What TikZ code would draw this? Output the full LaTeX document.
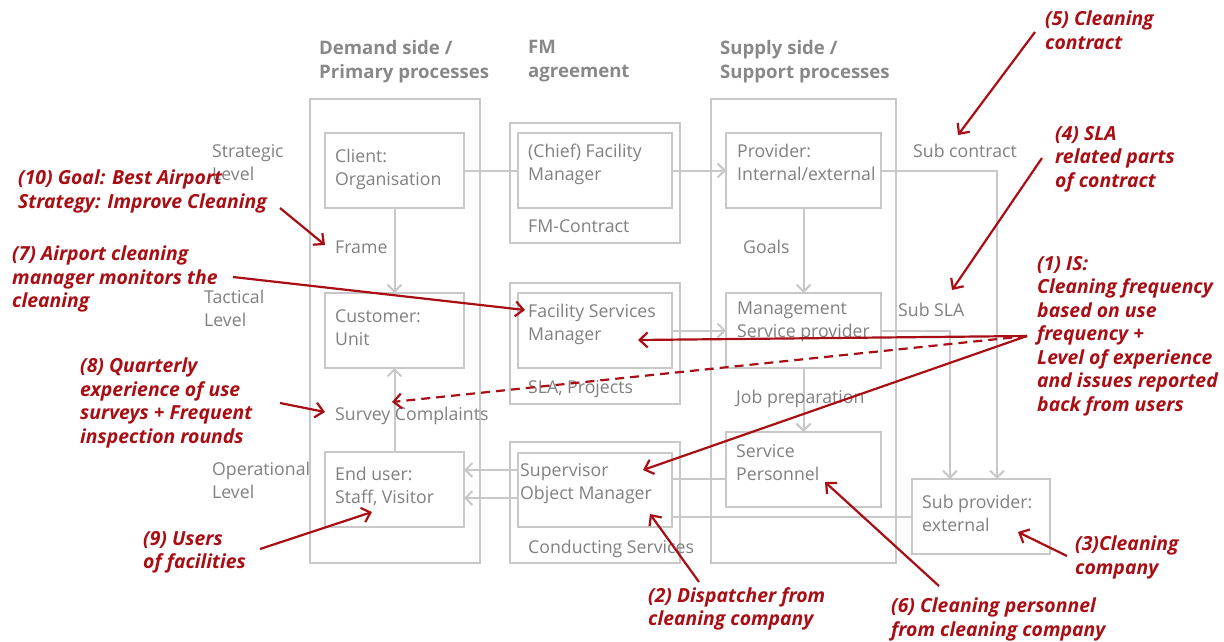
\documentclass[tikz,border=0pt]{standalone}
\usepackage{fontspec}
\setmainfont{Open Sans}
\usetikzlibrary{arrows.meta}
\definecolor{boxgray}{RGB}{200,200,200}
\definecolor{txtgray}{RGB}{128,128,128}
\definecolor{headgray}{RGB}{136,136,136}
\definecolor{annred}{RGB}{168,14,20}
\begin{document}
\begin{tikzpicture}[x=1pt,y=-1pt,
  gbox/.style={draw=boxgray,line width=2pt,inner sep=0pt,outer sep=0pt,rectangle},
  gline/.style={draw=boxgray,line width=2pt},
  garrow/.style={gline,-{Straight Barb[length=7pt,width=14pt]}},
  gtext/.style={text=txtgray,font=\fontsize{17.7}{23}\selectfont,inner sep=0pt,anchor=north west,align=left,execute at begin node={\rule{0pt}{14pt}}},
  htext/.style={text=headgray,font=\bfseries\fontsize{18.6}{24}\selectfont,inner sep=0pt,anchor=north west,align=left,execute at begin node={\rule{0pt}{14.5pt}}},
  rtext/.style={text=annred,font=\bfseries\itshape\fontsize{19.4}{23.5}\selectfont,inner sep=0pt,anchor=north west,align=left,execute at begin node={\rule{0pt}{15.5pt}}},
  rarrow/.style={draw=annred,line width=2.2pt,-{Straight Barb[length=8pt,width=15pt]}},
  rdash/.style={rarrow,dash pattern=on 9pt off 6pt}
]
\path[use as bounding box] (0,0) rectangle (1224,641);

% outer boxes
\node[gbox,minimum width=170pt,minimum height=464pt] (lout) at (395,331) {};
\node[gbox,minimum width=185pt,minimum height=464pt] (sout) at (803.5,331) {};
\node[gbox,minimum width=170pt,minimum height=120pt] (fmA) at (595,183) {};
\node[gbox,minimum width=170pt,minimum height=121pt] (fmB) at (595,343.5) {};
\node[gbox,minimum width=170pt,minimum height=121pt] (fmC) at (595,502.5) {};

% inner boxes
\node[gbox,minimum width=139pt,minimum height=75pt] (client) at (394.5,170.5) {};
\node[gbox,minimum width=139pt,minimum height=75pt] (customer) at (394.5,330.5) {};
\node[gbox,minimum width=139pt,minimum height=75pt] (enduser) at (394.5,489.5) {};
\node[gbox,minimum width=154pt,minimum height=75pt] (chief) at (595,170.5) {};
\node[gbox,minimum width=154pt,minimum height=75pt] (fsm) at (595,330.5) {};
\node[gbox,minimum width=154pt,minimum height=74pt] (sup) at (595,490) {};
\node[gbox,minimum width=155pt,minimum height=75pt] (prov) at (803.5,170.5) {};
\node[gbox,minimum width=155pt,minimum height=75pt] (mgmt) at (803.5,330.5) {};
\node[gbox,minimum width=155pt,minimum height=75pt] (serv) at (803.5,469.5) {};
\node[gbox,minimum width=138pt,minimum height=75pt] (subp) at (981,516.5) {};

% grey connectors
\draw[gline] (client.east) -- (chief.west);
\draw[garrow] (chief.east) -- (prov.west);
\draw[garrow] (fsm.east) -- (mgmt.west);
\draw[garrow] (client.south) -- (customer.north);
\draw[garrow] (enduser.north) -- (customer.south);
\draw[garrow] (prov.south) -- (mgmt.north);
\draw[garrow] (mgmt.south) -- (serv.north);
\draw[garrow] (prov.east) -| ([xshift=16pt]subp.north);
\draw[garrow] (mgmt.east) -| ([xshift=-31pt]subp.north);
\draw[garrow] ([yshift=20pt]sup.west) -- ([yshift=20pt]sup.west -| enduser.east);
\draw[garrow] ([yshift=-8pt]sup.west) -- ([yshift=-8pt]sup.west -| enduser.east);
\draw[gline] ([yshift=11pt]sup.east) -- ([yshift=11pt]sup.east -| serv.west);
\draw[gline] (sup.east |- subp.west) -- (subp.west);

% headings
\node[htext] (h1) at (319,40) {Demand side /\\Primary processes};
\node[htext] (h2) at (528,40) {FM\\agreement};
\node[htext] (h3) at (720,40) {Supply side /\\Support processes};

% level labels
\node[gtext] (l1) at (212,144) {Strategic\\Level};
\node[gtext] (l2) at (204,290) {Tactical\\Level};
\node[gtext] (l3) at (212,462) {Operational\\Level};

% box texts
\node[gtext] (tclient) at (335,149) {Client:\\Organisation};
\node[gtext] (tcustomer) at (335,309) {Customer:\\Unit};
\node[gtext] (tenduser) at (335,467) {End user:\\Staff, Visitor};
\node[gtext] (tchief) at (528,144) {(Chief) Facility\\Manager};
\node[gtext] (tfsm) at (528,304) {Facility Services\\Manager};
\node[gtext] (tsup) at (520,463) {Supervisor\\Object Manager};
\node[gtext] (tprov) at (737,144) {Provider:\\Internal/external};
\node[gtext] (tmgmt) at (737,302) {Management\\Service provider};
\node[gtext] (tserv) at (736,444) {Service\\Personnel};
\node[gtext] (tsubp) at (922,495) {Sub provider:\\external};

% connector labels
\node[gtext] (frame) at (335,239) {Frame};
\node[gtext] (survey) at (335,406) {Survey Complaints};
\node[gtext] (goals) at (743,239) {Goals};
\node[gtext] (jobprep) at (736,389) {Job preparation};
\node[gtext] (subc) at (913,143) {Sub contract};
\node[gtext] (subsla) at (898,302) {Sub SLA};
\node[gtext] (fmc) at (528,218) {FM-Contract};
\node[gtext] (slap) at (528,379) {SLA, Projects};
\node[gtext] (cond) at (528,539) {Conducting Services};

% annotation coordinates
\coordinate (s5) at (1035,32);   \coordinate (e5) at (958,135);
\coordinate (s4) at (1042,158);  \coordinate (e4) at (952,290);
\coordinate (s1) at (1027,336);
\coordinate (e1a) at (638,340);  \coordinate (e1b) at (392,402); \coordinate (e1c) at (643,470);
\coordinate (s7) at (233,277);   \coordinate (e7) at (525,310);
\coordinate (s10) at (280,208);  \coordinate (e10) at (325,245);
\coordinate (s8) at (280,403);   \coordinate (e8) at (325,412);
\coordinate (s9) at (260,549);   \coordinate (e9) at (372,512);
\coordinate (s2) at (699,582);   \coordinate (e2) at (650,514);
\coordinate (s6) at (939,586);   \coordinate (e6) at (825,482);
\coordinate (s3) at (1067,556);  \coordinate (e3) at (1018,532);

% red arrows
\draw[rarrow] (s5) -- (e5);
\draw[rarrow] (s4) -- (e4);
\draw[rarrow] (s1) -- (e1a);
\draw[rdash] (s1) -- (e1b);
\draw[rarrow] (s1) -- (e1c);
\draw[rarrow] (s7) -- (e7);
\draw[rarrow] (s10) -- (e10);
\draw[rarrow] (s8) -- (e8);
\draw[rarrow] (s9) -- (e9);
\draw[rarrow] (s2) -- (e2);
\draw[rarrow] (s6) -- (e6);
\draw[rarrow] (s3) -- (e3);

% red annotations
\node[rtext] (a5) at (1045,11) {(5) Cleaning\\contract};
\node[rtext] (a4) at (1055,126) {(4) SLA\\related parts\\of contract};
\node[rtext] (a1) at (1037,256) {(1) IS:\\Cleaning frequency\\based on use\\frequency +\\Level of experience\\and issues reported\\back from users};
\node[rtext] (a7) at (12,246) {(7) Airport cleaning\\manager monitors the\\cleaning};
\node[rtext] (a10) at (18,170) {(10) Goal: Best Airport\\Strategy: Improve Cleaning};
\node[rtext] (a8) at (80,358) {(8) Quarterly\\experience of use\\surveys + Frequent\\inspection rounds};
\node[rtext] (a9) at (143,531) {(9) Users\\of facilities};
\node[rtext] (a2) at (648,587) {(2) Dispatcher from\\cleaning company};
\node[rtext] (a6) at (891,598) {(6) Cleaning personnel\\from cleaning company};
\node[rtext] (a3) at (1075,536) {(3)Cleaning\\company};
\end{tikzpicture}
\end{document}
